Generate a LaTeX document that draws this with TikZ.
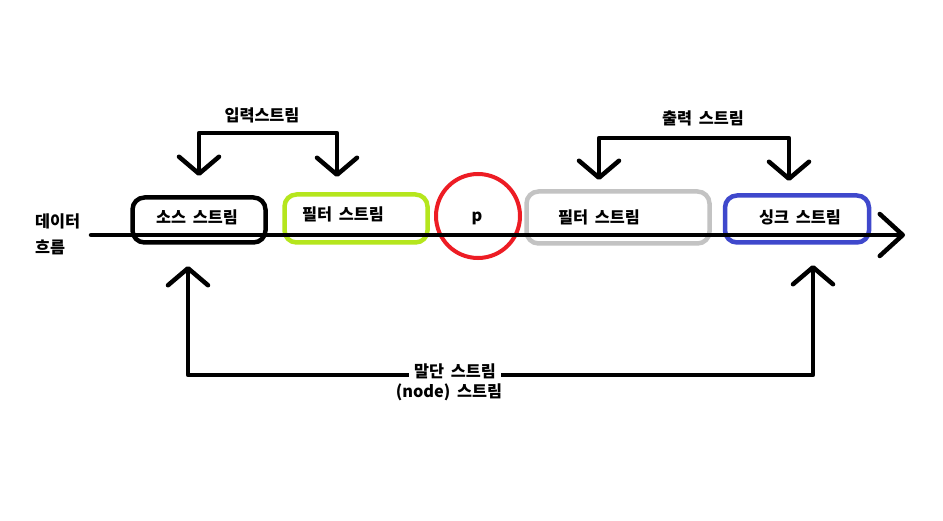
\documentclass[tikz,border=0pt]{standalone}
\usepackage{fontspec}
\setmainfont{Noto Sans CJK KR}[WordSpace=1.8]
\usetikzlibrary{arrows.meta}
\definecolor{plime}{HTML}{B5E61D}
\definecolor{pred}{HTML}{ED1C24}
\definecolor{pgray}{HTML}{C3C3C3}
\definecolor{pblue}{HTML}{3F48CC}
\tikzset{
  streambox/.style={draw, line width=4.5pt, rounded corners=12pt, inner sep=0pt},
  lbl/.style={font=\fontsize{16.3}{18}\selectfont\bfseries, inner sep=1pt},
  conn/.style={line width=4.5pt, line cap=round, line join=round,
    arrows={Straight Barb[length=17pt,width=40pt,line cap=round,line join=round]-Straight Barb[length=17pt,width=40pt,line cap=round,line join=round]}},
  flow/.style={line width=4.5pt, line cap=round, line join=round,
    -{Straight Barb[length=23pt,width=42pt,line cap=round,line join=round]}}
}
\begin{document}
\begin{tikzpicture}[x=1pt,y=-1pt]
\useasboundingbox[fill=white] (0,0) rectangle (943,521);
% boxes
\node[streambox, draw=black, minimum width=133pt, minimum height=45pt] (src) at (199,220) {};
\node[streambox, draw=plime, minimum width=143pt, minimum height=48pt] (flt1) at (356,218.5) {};
\node[draw=pred, circle, line width=4pt, minimum size=84pt, inner sep=0pt] (p) at (478,216) {};
\node[streambox, draw=pgray, minimum width=183pt, minimum height=52pt] (flt2) at (618,217.5) {};
\node[streambox, draw=pblue, minimum width=144pt, minimum height=47pt] (sink) at (797,219) {};
% labels in boxes
\node[lbl] (srcl) at (197,217) {소스 스트림};
\node[lbl] (flt1l) at (343,214) {필터 스트림};
\node[lbl] (pl) at (477,218) {p};
\node[lbl] (flt2l) at (599,217) {필터 스트림};
\node[lbl] (sinkl) at (800,217) {싱크 스트림};
% data flow
\coordinate (fs) at (91,235);
\coordinate (fe) at (905,235);
\draw[flow] (fs) -- (fe);
\node[lbl, anchor=west] (d1) at (34,221) {데이터};
\node[lbl, anchor=west] (d2) at (34,247) {흐름};
% input bracket
\coordinate (inA) at (199,176);
\coordinate (inB) at (337,177);
\draw[conn] (inA) -- (199,133) -- (337,133) -- (inB);
\node[lbl] (inl) at (262,115) {입력스트림};
% output bracket
\coordinate (outA) at (599,180);
\coordinate (outB) at (789,181);
\draw[conn] (outA) -- (599,138) -- (789,138) -- (outB);
\node[lbl] (outl) at (703,118) {출력 스트림};
% bottom bracket
\coordinate (botA) at (188,266);
\coordinate (botB) at (813,265);
\draw[conn] (botA) -- (188,375) -- (813,375) -- (botB);
\node[lbl, fill=white, inner xsep=5pt, inner ysep=1pt] (botl1) at (455,371) {말단 스트림};
\node[lbl] (botl2) at (449,392) {(node) 스트림};
\end{tikzpicture}
\end{document}
